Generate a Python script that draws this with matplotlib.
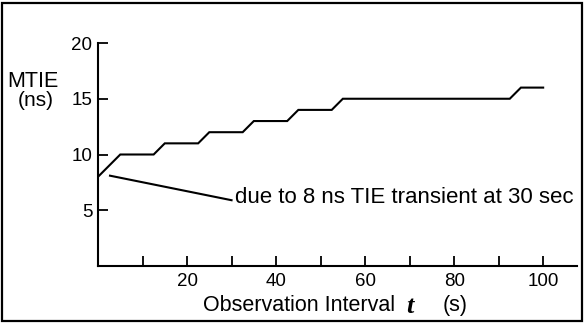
import matplotlib
matplotlib.use("Agg")
import matplotlib.pyplot as plt
from matplotlib.patches import Rectangle

plt.rcParams['font.family'] = ['Liberation Sans', 'DejaVu Sans']

# MTIE staircase (observation interval in s, MTIE in ns)
tau = [0, 5, 12.5, 15, 22.5, 25, 32.5, 35, 42.5, 45, 52.5, 55, 92.5, 95, 100]
mtie = [8, 10, 10, 11, 11, 12, 12, 13, 13, 14, 14, 15, 15, 16, 16]

x_ticks = [10, 20, 30, 40, 50, 60, 70, 80, 90, 100]
x_tick_labels = ["", "20", "", "40", "", "60", "", "80", "", "100"]
y_ticks = [5, 10, 15, 20]
y_tick_labels = ["5", "10", "15", "20"]

# leader line for the transient note
note_x = [2.7, 30.0]
note_y = [8.1, 5.9]
note_text = "due to 8 ns TIE transient at 30 sec"

W, H = 584, 323
fig = plt.figure(figsize=(W / 100, H / 100), dpi=100)
ax = fig.add_axes([98 / W, (H - 266) / H, (577 - 98) / W, (266 - 43) / H])

ax.plot(tau, mtie, color="black", lw=1.5, solid_joinstyle="miter")
ax.plot(note_x, note_y, color="black", lw=1.5)
ax.text(30.8, 6.15, note_text, fontsize=16, va="center", ha="left")

ax.set_xlim(0, 107.6)
ax.set_ylim(0, 20)
ax.spines["top"].set_visible(False)
ax.spines["right"].set_visible(False)
for s in ("left", "bottom"):
    ax.spines[s].set_linewidth(1.5)
ax.spines["left"].set_bounds(0, 20)

ax.set_xticks(x_ticks)
ax.set_xticklabels(x_tick_labels)
ax.set_yticks(y_ticks)
ax.set_yticklabels(y_tick_labels)
ax.tick_params(axis="both", direction="in", length=7.5, width=1.3,
               labelsize=13.5, colors="black")
ax.tick_params(axis="x", pad=5)
ax.tick_params(axis="y", pad=4)

# y-axis caption
fig.text(33 / W, 1 - 87 / H, "MTIE", fontsize=15.5, ha="center",
         va="baseline")
fig.text(36 / W, 1 - 106.5 / H, "(ns)", fontsize=15, ha="center",
         va="baseline")

# x-axis caption
fig.text(203 / W, 1 - 311 / H, "Observation Interval", fontsize=15.5,
         ha="left", va="baseline")
fig.text(410 / W, 1 - 313 / H, "t", fontsize=19, ha="center", va="baseline",
         family="Liberation Serif", style="italic", weight="bold")
fig.text(455 / W, 1 - 311 / H, "(s)", fontsize=15.5, ha="center",
         va="baseline")

# outer frame
fig.patches.append(Rectangle((2 / W, 2 / H), 1 - 4 / W, 1 - 5 / H,
                             transform=fig.transFigure, fill=False,
                             edgecolor="black", lw=1.6))

fig.savefig("out.png", dpi=100)
